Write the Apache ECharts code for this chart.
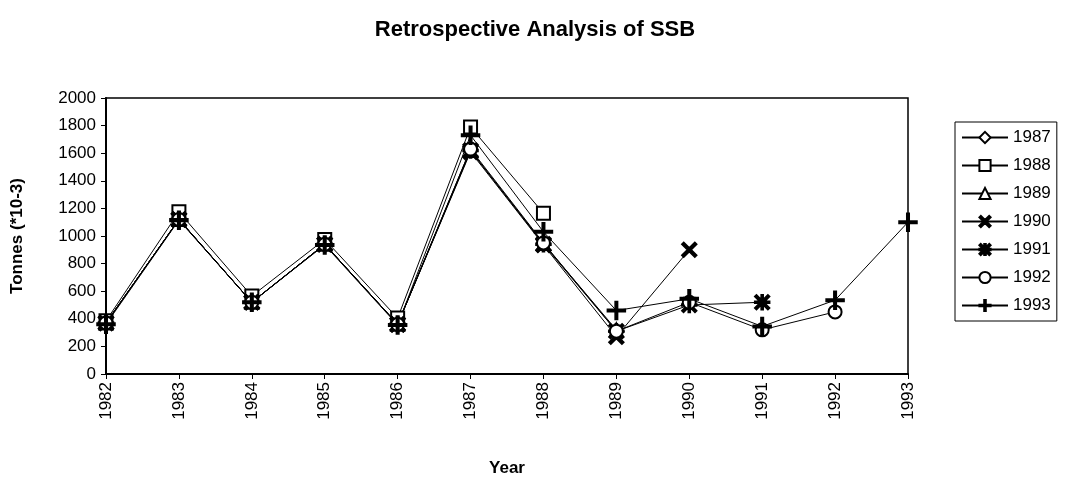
<!DOCTYPE html>
<html>
<head>
<meta charset="utf-8">
<title>Retrospective Analysis of SSB</title>
<script src="https://cdn.jsdelivr.net/npm/echarts@6/dist/echarts.min.js"></script>
<style>
	html,
	body {
		margin: 0;
		padding: 0;
		background: #fff;
	}
	#ssb_chart {
		width: 1070px;
		height: 482px;
	}
</style>
</head>
<body>
<div id="ssb_chart"></div>
<script>
// 年份 (x轴)
const years = ['1982', '1983', '1984', '1985', '1986', '1987', '1988', '1989', '1990', '1991', '1992', '1993']
// 各次评估的 SSB (Tonnes *10-3)
const ssb1987 = [370, 1120, 520, 940, 360, 1630]
const ssb1988 = [385, 1175, 565, 975, 405, 1790, 1165]
const ssb1989 = [370, 1120, 520, 940, 360, 1620, 945, 320]
const ssb1990 = [370, 1120, 520, 940, 360, 1610, 935, 270, 900]
const ssb1991 = [370, 1120, 520, 940, 360, 1620, 940, 310, 500, 520]
const ssb1992 = [370, 1120, 520, 940, 360, 1630, 950, 310, 520, 320, 450]
const ssb1993 = [360, 1115, 520, 935, 355, 1730, 1030, 460, 545, 345, 535, 1100]
const yTicks = [0, 200, 400, 600, 800, 1000, 1200, 1400, 1600, 1800, 2000]

const FONT = 'Arial, "Liberation Sans", sans-serif'

// 自定义符号
const SYM_PLUS = 'path://M4.3,0H5.7V4.3H10V5.7H5.7V10H4.3V5.7H0V4.3H4.3Z'
const SYM_X = 'path://M0,1.3L1.3,0L5,3.7L8.7,0L10,1.3L6.3,5L10,8.7L8.7,10L5,6.3L1.3,10L0,8.7L3.7,5Z'
const SYM_STAR =
	'path://M4.3,0H5.7V4.3H10V5.7H5.7V10H4.3V5.7H0V4.3H4.3Z' +
	'M0,1.2L1.2,0L5,3.8L8.8,0L10,1.2L6.2,5L10,8.8L8.8,10L5,6.2L1.2,10L0,8.8L3.8,5Z'

const seriesDefs = [
	{ name: '1987', data: ssb1987, symbol: 'emptyDiamond', size: 13 },
	{ name: '1988', data: ssb1988, symbol: 'emptyRect', size: 13 },
	{ name: '1989', data: ssb1989, symbol: 'emptyTriangle', size: 13 },
	{ name: '1990', data: ssb1990, symbol: SYM_X, size: 15 },
	{ name: '1991', data: ssb1991, symbol: SYM_STAR, size: 15 },
	{ name: '1992', data: ssb1992, symbol: 'emptyCircle', size: 13 },
	{ name: '1993', data: ssb1993, symbol: SYM_PLUS, size: 18 },
]

const myChart = echarts.init(document.getElementById('ssb_chart'))
const option = {
	animation: false,
	backgroundColor: '#fff',
	title: {
		text: 'Retrospective Analysis of SSB',
		left: 530,
		top: 14,
		textAlign: 'center',
		textStyle: {
			color: '#000',
			fontSize: 22,
			fontWeight: 'bold',
			fontFamily: FONT,
		},
	},
	legend: {
		orient: 'vertical',
		left: 955,
		top: 122,
		padding: [7, 6, 7, 6],
		itemGap: 11,
		itemWidth: 46,
		itemHeight: 14,
		borderColor: '#000',
		borderWidth: 1,
		textStyle: {
			color: '#000',
			fontSize: 17,
			fontFamily: FONT,
		},
		data: seriesDefs.map((s) => s.name),
	},
	grid: {
		left: 106,
		right: 162,
		top: 98,
		bottom: 102,
		show: true,
		borderColor: '#000',
		borderWidth: 1.5,
	},
	xAxis: {
		type: 'category',
		data: years,
		boundaryGap: false,
		name: 'Year',
		nameLocation: 'middle',
		nameGap: 86,
		nameTextStyle: {
			color: '#000',
			fontSize: 17,
			fontWeight: 'bold',
			fontFamily: FONT,
		},
		axisLine: { lineStyle: { color: '#000', width: 2 } },
		axisTick: { alignWithLabel: true, length: 5, lineStyle: { color: '#000' } },
		axisLabel: {
			rotate: 90,
			color: '#000',
			fontSize: 17,
			fontFamily: FONT,
			margin: 8,
			interval: 0,
		},
	},
	yAxis: {
		type: 'value',
		min: yTicks[0],
		max: yTicks[yTicks.length - 1],
		interval: 200,
		name: 'Tonnes (*10-3)',
		nameLocation: 'middle',
		nameGap: 80,
		nameTextStyle: {
			color: '#000',
			fontSize: 17,
			fontWeight: 'bold',
			fontFamily: FONT,
		},
		splitLine: { show: false },
		axisLine: { show: true, lineStyle: { color: '#000', width: 2 } },
		axisTick: { show: true, length: 5, lineStyle: { color: '#000' } },
		axisLabel: {
			color: '#000',
			fontSize: 17,
			fontFamily: FONT,
			margin: 10,
			formatter: (val) => String(val),
		},
	},
	series: seriesDefs.map((s) => ({
		name: s.name,
		type: 'line',
		data: s.data,
		symbol: s.symbol,
		symbolSize: s.size,
		showAllSymbol: true,
		lineStyle: { color: '#000', width: 1 },
		itemStyle: { color: '#000', borderColor: '#000', borderWidth: 1.5 },
		emphasis: { disabled: true },
	})),
}
myChart.setOption(option)
</script>
</body>
</html>
